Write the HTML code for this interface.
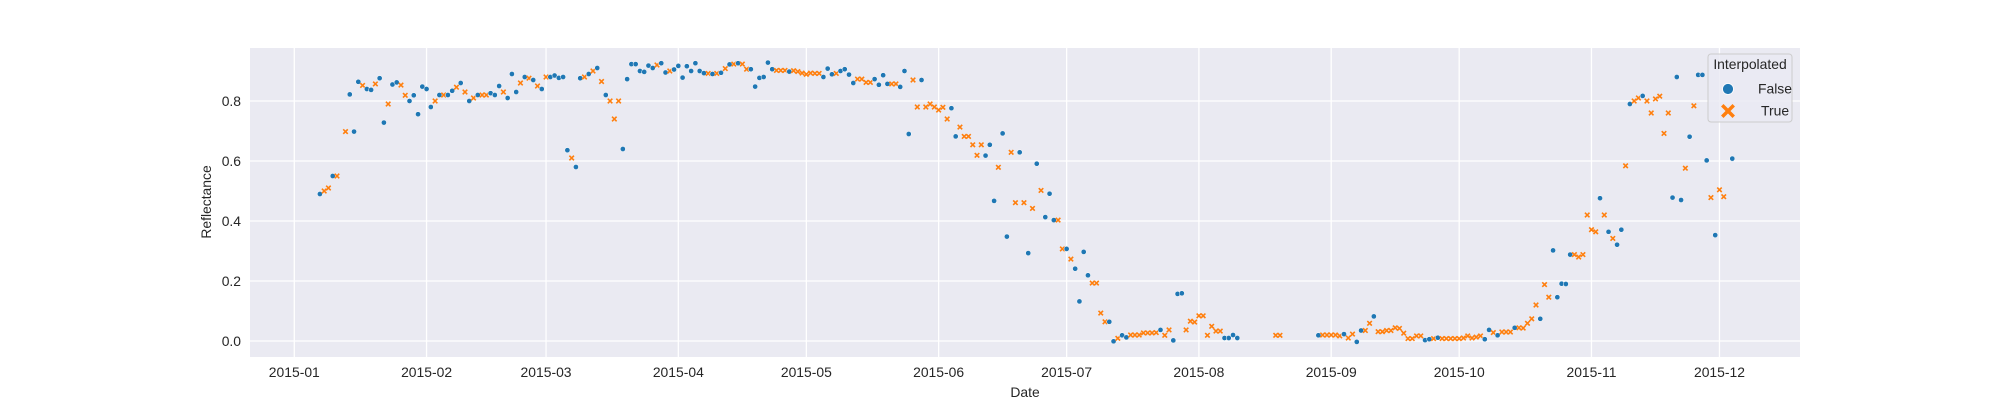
<!DOCTYPE html>
<html><head><meta charset="utf-8">
<style>
html,body{margin:0;padding:0;background:#fff;}
svg{display:block;font-family:"Liberation Sans",sans-serif;}
</style></head>
<body>
<svg id="chart" width="2000" height="400" xmlns="http://www.w3.org/2000/svg">
<rect x="250" y="48" width="1550" height="309" fill="#eaeaf2"/>
<g id="grid"></g>
<g id="xticks"></g>
<g id="yticks"></g>
<g id="points"></g>
<text x="1025" y="397" font-size="13.9" text-anchor="middle" fill="#262626">Date</text>
<text transform="translate(211,202) rotate(-90)" font-size="13.9" text-anchor="middle" fill="#262626">Reflectance</text>
<g>
<rect x="1708" y="54" width="84" height="68" rx="3" fill="#eaeaf2" fill-opacity="0.8" stroke="#cccccc" stroke-width="1"/>
<text x="1750" y="69" font-size="13.9" text-anchor="middle" fill="#262626">Interpolated</text>
<g>
<circle cx="1728" cy="89" r="5.5" fill="#1f77b4" stroke="#fff" stroke-width="0.8"/>
<text x="1758" y="93.5" font-size="13.9" fill="#262626">False</text>
</g>
<g>
<path d="M1723.5,106.5 L1732.5,115.5 M1732.5,106.5 L1723.5,115.5" stroke="#ff7f0e" stroke-width="3.5" stroke-linecap="square"/>
<text x="1761" y="115.5" font-size="13.9" fill="#262626">True</text>
</g>
</g>
</svg>
<script>
const days = [6,7,8,9,10,12,13,14,15,16,17,18,19,20,21,22,23,24,25,26,27,28,29,30,31,32,33,34,35,36,37,38,39,40,41,42,43,44,45,46,47,48,49,50,51,52,53,54,55,56,57,58,59,60,61,62,63,64,65,66,67,68,69,70,71,72,73,74,75,76,77,78,79,80,81,82,83,84,85,86,87,88,89,90,91,92,93,94,95,96,97,98,99,100,101,102,103,104,105,106,107,108,109,110,111,112,113,114,115,116,117,118,119,120,121,122,123,124,125,126,127,128,129,130,131,132,133,134,135,136,137,138,139,140,141,142,143,144,145,146,147,148,149,150,151,152,153,154,155,156,157,158,159,160,161,162,163,164,165,166,167,168,169,170,171,172,173,174,175,176,177,178,179,180,181,182,183,184,185,186,187,188,189,190,191,192,193,194,195,196,197,198,199,200,201,202,203,204,205,206,207,208,209,210,211,212,213,214,215,216,217,218,219,220,221,230,231,240,241,242,243,244,245,246,247,248,249,250,251,252,253,254,255,256,257,258,259,260,261,262,263,264,265,266,267,268,269,270,271,272,273,274,275,276,277,278,279,280,281,282,283,284,285,286,287,288,289,290,291,292,293,294,295,296,297,298,299,300,301,302,303,304,305,306,307,308,309,310,311,312,313,314,315,316,317,318,319,320,321,322,323,324,325,326,327,328,329,330,331,332,333,334,335,337];
const reflectance = [.49,.50,.51,.55,.55,.698,.822,.698,.864,.852,.84,.837,.857,.876,.728,.79,.855,.862,.853,.819,.80,.819,.756,.848,.84,.78,.80,.82,.82,.82,.834,.846,.86,.83,.80,.81,.82,.82,.82,.826,.82,.85,.83,.81,.89,.83,.86,.88,.876,.87,.85,.84,.88,.88,.885,.877,.88,.636,.61,.58,.876,.88,.89,.90,.91,.865,.82,.80,.74,.80,.64,.873,.923,.923,.90,.897,.918,.91,.92,.926,.895,.90,.905,.917,.878,.916,.90,.926,.90,.893,.892,.89,.892,.894,.908,.922,.923,.926,.923,.906,.906,.848,.877,.88,.928,.906,.902,.902,.902,.898,.901,.898,.893,.889,.893,.892,.892,.88,.908,.889,.892,.90,.906,.888,.86,.873,.873,.862,.862,.873,.854,.886,.857,.857,.857,.847,.90,.69,.87,.78,.87,.78,.79,.78,.77,.779,.74,.776,.682,.713,.682,.682,.654,.619,.654,.618,.654,.467,.579,.692,.348,.629,.461,.629,.461,.293,.442,.591,.502,.413,.491,.403,.403,.307,.307,.273,.241,.132,.297,.219,.193,.193,.093,.064,.064,-.001,.009,.019,.012,.02,.02,.02,.027,.027,.027,.028,.037,.019,.037,.002,.157,.159,.037,.066,.063,.084,.084,.019,.049,.033,.033,.01,.01,.02,.01,.019,.019,.019,.02,.02,.02,.02,.017,.023,.01,.023,-.003,.035,.035,.059,.082,.031,.031,.035,.035,.044,.042,.026,.008,.008,.017,.017,.003,.006,.008,.011,.008,.008,.008,.008,.008,.01,.017,.01,.013,.017,.006,.037,.028,.019,.03,.03,.03,.044,.044,.043,.059,.074,.12,.074,.188,.146,.302,.146,.191,.19,.288,.288,.28,.288,.42,.371,.364,.476,.42,.364,.342,.321,.371,.584,.79,.80,.81,.817,.80,.76,.807,.816,.692,.76,.478,.88,.47,.576,.681,.784,.887,.887,.602,.478,.353,.504,.481,.608];
const interpolated = [
0,1,1,0,1,1,0,0,0,1,
0,0,1,0,0,1,0,0,1,1,
0,0,0,0,0,0,1,0,1,0,
0,1,0,1,0,1,0,1,1,0,
0,0,1,0,0,0,1,0,1,0,
1,0,1,0,0,0,0,0,1,0,
0,1,0,1,0,1,0,1,1,1,
0,0,0,0,0,0,0,0,1,0,
0,1,0,0,0,0,0,0,0,0,
1,0,1,0,1,0,1,0,1,1,
0,0,0,0,0,0,1,1,1,0,
1,1,1,1,1,1,1,0,0,0,
1,0,0,0,0,1,1,1,1,0,
0,0,0,1,1,0,0,0,1,1,
0,1,1,1,1,1,1,0,0,1,
1,1,1,1,1,0,0,0,1,0,
0,1,1,0,1,0,1,0,1,0,
0,0,1,1,0,1,0,0,0,0,
1,1,1,1,0,0,1,0,0,1,
1,1,1,1,1,1,0,1,1,0,
0,0,1,1,1,1,1,1,1,1,
1,0,0,0,0,1,1,0,1,1,
1,1,1,0,1,1,0,0,1,1,
0,1,1,1,1,1,1,1,1,1,
1,1,0,0,1,0,1,1,1,1,
1,1,1,1,1,1,0,0,1,0,
1,1,1,0,1,1,1,1,1,0,
1,1,0,0,0,0,0,1,1,1,
1,1,1,0,1,0,1,0,0,1,
0,1,1,0,1,1,1,1,1,1,
0,0,0,1,0,1,0,0,0,1,
0,1,1,0];
const monthDays = [0,31,59,90,120,151,181,212,243,273,304,334];
const monthLabels = ["2015-01","2015-02","2015-03","2015-04","2015-05","2015-06","2015-07","2015-08","2015-09","2015-10","2015-11","2015-12"];
const yTickValues = [0,0.2,0.4,0.6,0.8];
const yTickLabels = ["0.0","0.2","0.4","0.6","0.8"];

const NS = "http://www.w3.org/2000/svg";
function xScale(d){ return 294.3 + d * 4.267; }
function yScale(v){ return 341 - v * 300; }
function mk(tag, attrs, parent){
  const e = document.createElementNS(NS, tag);
  for (const k in attrs) e.setAttribute(k, attrs[k]);
  parent.appendChild(e);
  return e;
}
const grid = document.getElementById('grid');
const xt = document.getElementById('xticks');
const yt = document.getElementById('yticks');
const pts = document.getElementById('points');
monthDays.forEach((d, i) => {
  const x = xScale(d);
  const gl = mk('line', {x1:x, x2:x, y1:48, y2:357, stroke:'#fff', 'stroke-width':1.3}, grid);
  
  
  const t = mk('text', {x:x, y:377, 'font-size':13.9, 'text-anchor':'middle', fill:'#262626'}, xt);
  t.textContent = monthLabels[i];
  
  
});
yTickValues.forEach((v, i) => {
  const y = yScale(v);
  const gl = mk('line', {x1:250, x2:1800, y1:y, y2:y, stroke:'#fff', 'stroke-width':1.3}, grid);
  
  
  const t = mk('text', {x:241, y:y + 5, 'font-size':13.9, 'text-anchor':'end', fill:'#262626'}, yt);
  t.textContent = yTickLabels[i];
  
  
});
days.forEach((d, i) => {
  const x = xScale(d), y = yScale(reflectance[i]);
  let e;
  if (interpolated[i]) {
    const s = 1.7;
    e = mk('path', {d:`M${x-s},${y-s}L${x+s},${y+s}M${x+s},${y-s}L${x-s},${y+s}`, stroke:'#ff7f0e', 'stroke-width':1.6, 'stroke-linecap':'square'}, pts);
    
  } else {
    e = mk('circle', {cx:x, cy:y, r:2.6, fill:'#1f77b4', stroke:'#fff', 'stroke-width':0.5}, pts);
    
  }
  
});
</script>
</body></html>
